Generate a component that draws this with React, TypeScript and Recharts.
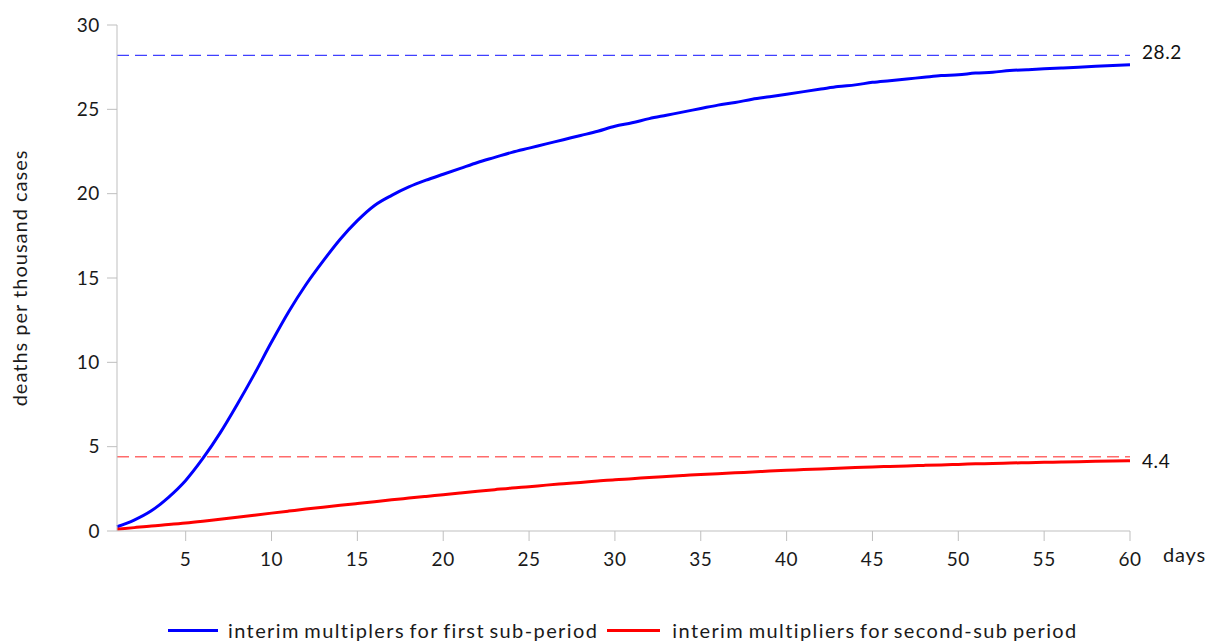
import { Line, LineChart, ReferenceLine, XAxis, YAxis } from "recharts";

const days = Array.from({ length: 60 }, (_, i) => i + 1);

const firstSubPeriod = [
  0.25, 0.65, 1.2, 2.0, 3.0, 4.3, 5.8, 7.5, 9.3, 11.2,
  13.0, 14.6, 16.0, 17.3, 18.4, 19.3, 19.9, 20.4, 20.8, 21.15,
  21.5, 21.85, 22.15, 22.45, 22.7, 22.95, 23.2, 23.45, 23.7, 24.0,
  24.2, 24.45, 24.65, 24.85, 25.05, 25.25, 25.4, 25.6, 25.75, 25.9,
  26.05, 26.2, 26.35, 26.45, 26.6, 26.7, 26.8, 26.9, 27.0, 27.05,
  27.15, 27.2, 27.3, 27.35, 27.4, 27.45, 27.5, 27.55, 27.6, 27.65,
];

const secondSubPeriod = [
  0.1, 0.2, 0.3, 0.38, 0.47, 0.58, 0.7, 0.82, 0.94, 1.06,
  1.18, 1.3, 1.41, 1.52, 1.63, 1.74, 1.85, 1.95, 2.05, 2.15,
  2.25, 2.35, 2.45, 2.55, 2.63, 2.72, 2.8, 2.88, 2.96, 3.04,
  3.1, 3.17, 3.23, 3.29, 3.35, 3.4, 3.45, 3.5, 3.55, 3.6,
  3.64, 3.68, 3.72, 3.76, 3.8, 3.83, 3.86, 3.89, 3.92, 3.95,
  3.98, 4.0, 4.03, 4.05, 4.07, 4.09, 4.11, 4.13, 4.15, 4.17,
];

const xTicks = [5, 10, 15, 20, 25, 30, 35, 40, 45, 50, 55, 60];
const yTicks = [0, 5, 10, 15, 20, 25, 30];

const firstLimit = 28.2;
const secondLimit = 4.4;

const data = days.map((d, i) => ({
  day: d,
  first: firstSubPeriod[i],
  second: secondSubPeriod[i],
}));

const font = "Lato, 'Open Sans', sans-serif";
const axisColor = "#bfbfbf";
const tickStyle = { fontSize: 19, fill: "#1a1a1a", fontFamily: font, letterSpacing: 0.6 };

export default function App() {
  return (
    <div style={{ position: "absolute", left: 0, top: 0, width: 1210, height: 641, background: "#fff", fontFamily: font }}>
      <LineChart width={1210} height={641} data={data} margin={{ top: 25, right: 80, left: 0, bottom: 80 }}>
        <XAxis
          dataKey="day"
          type="number"
          domain={[1, 60]}
          ticks={xTicks}
          tick={tickStyle}
          tickSize={10}
          tickMargin={12}
          height={30}
          stroke={axisColor}
          allowDecimals={false}
        />
        <YAxis
          domain={[0, 30]}
          ticks={yTicks}
          tick={tickStyle}
          tickSize={10}
          tickMargin={7}
          width={117}
          stroke={axisColor}
          label={{
            value: "deaths per thousand cases",
            angle: -90,
            position: "insideLeft",
            offset: 20,
            style: { fontSize: 20, fill: "#1a1a1a", fontFamily: font, textAnchor: "middle", letterSpacing: 1 },
          }}
        />
        <ReferenceLine
          y={firstLimit}
          stroke="#4040ff"
          strokeDasharray="12 6"
          strokeWidth={1.2}
          label={{ value: "28.2", position: "right", offset: 12, dy: -3, style: { fontSize: 19, fill: "#111", fontFamily: font, letterSpacing: 0.6 } }}
        />
        <ReferenceLine
          y={secondLimit}
          stroke="#ff6b6b"
          strokeDasharray="12 6"
          strokeWidth={1.5}
          label={{ value: "4.4", position: "right", offset: 12, dy: 4, style: { fontSize: 19, fill: "#111", fontFamily: font, letterSpacing: 0.6 } }}
        />
        <Line type="monotone" dataKey="first" stroke="#0000ff" strokeWidth={3} dot={false} isAnimationActive={false} />
        <Line type="monotone" dataKey="second" stroke="#ff0000" strokeWidth={3} dot={false} isAnimationActive={false} />
      </LineChart>
      <div style={{ position: "absolute", left: 1163, top: 542, fontSize: 20, letterSpacing: 0.8, color: "#1a1a1a" }}>days</div>
      <div
        style={{
          position: "absolute",
          left: 168,
          top: 618,
          display: "flex",
          alignItems: "center",
          fontSize: 20,
          letterSpacing: 1.4,
          wordSpacing: -2,
          color: "#1a1a1a",
          whiteSpace: "nowrap",
        }}
      >
        <span style={{ display: "inline-block", width: 50, height: 3, background: "#0000ff", marginRight: 10 }} />
        <span>interim multiplers for first sub-period</span>
        <span style={{ display: "inline-block", width: 53, height: 3, background: "#ff0000", marginLeft: 9, marginRight: 12 }} />
        <span>interim multipliers for second-sub period</span>
      </div>
    </div>
  );
}
